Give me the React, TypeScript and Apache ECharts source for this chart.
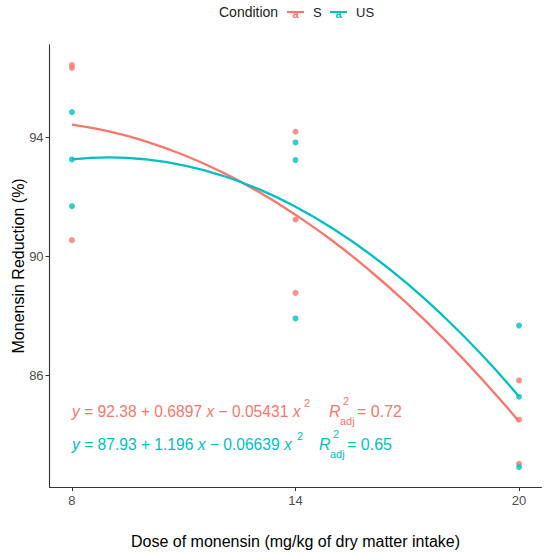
import React, { useEffect, useRef } from "react";
import * as echarts from "echarts";

const doses = [8, 14, 20];
const sPoints: [number, number][] = [
  [8, 96.42], [8, 96.32], [8, 90.54],
  [14, 94.18], [14, 91.23], [14, 88.77],
  [20, 85.83], [20, 84.51], [20, 83.03],
];
const usPoints: [number, number][] = [
  [8, 94.84], [8, 93.25], [8, 91.68],
  [14, 93.82], [14, 93.23], [14, 87.91],
  [20, 87.67], [20, 85.28], [20, 82.92],
];
const fitX = [8, 9, 10, 11, 12, 13, 14, 15, 16, 17, 18, 19, 20];
const sFit = [94.42, 94.19, 93.85, 93.4, 92.84, 92.17, 91.39, 90.51, 89.51, 88.41, 87.2, 85.88, 84.45];
const usFit = [93.25, 93.32, 93.25, 93.05, 92.72, 92.26, 91.66, 90.93, 90.07, 89.08, 87.95, 86.69, 85.29];
const yTicks = [86, 90, 94];
const legendNames = ["S", "US"];
const sEq = { main: "{i|y} = 92.38 + 0.6897 {i|x} − 0.05431 {i|x}", r2: "= 0.72" };
const usEq = { main: "{i|y} = 87.93 + 1.196 {i|x} − 0.06639 {i|x}", r2: "= 0.65" };

const S_COLOR = "#F8766D";
const US_COLOR = "#00BFC4";
const FONT = "'Liberation Sans', Arial, Helvetica, sans-serif";

function eqGraphics(eq: { main: string; r2: string }, color: string, y: number, supX: number, rX: number, r2X: number) {
  const base = { fill: color, fontFamily: FONT, verticalAlign: "middle" };
  return [
    {
      type: "text", x: 72, y,
      style: { ...base, text: eq.main, fontSize: 15.6, rich: { i: { fontStyle: "italic", fontSize: 15.6, fill: color, fontFamily: FONT } } },
    },
    { type: "text", x: supX, y: y - 8, style: { ...base, text: "2", fontSize: 11 } },
    { type: "text", x: rX, y, style: { ...base, text: "R", fontSize: 16, fontStyle: "italic" } },
    { type: "text", x: rX + 14, y: y - 10, style: { ...base, text: "2", fontSize: 11 } },
    { type: "text", x: rX + 11, y: y + 10, style: { ...base, text: "adj", fontSize: 11 } },
    { type: "text", x: r2X, y, style: { ...base, text: eq.r2, fontSize: 16 } },
  ];
}

function legendGraphics() {
  const colors = [S_COLOR, US_COLOR];
  const iconX = [287, 330];
  const out: any[] = [
    { type: "text", x: 219, y: 12, style: { text: "Condition", fill: "#222", fontSize: 14, fontFamily: FONT, verticalAlign: "middle" } },
  ];
  legendNames.forEach((name, i) => {
    out.push({ type: "line", shape: { x1: iconX[i], y1: 12, x2: iconX[i] + 17, y2: 12 }, style: { stroke: colors[i], lineWidth: 2 } });
    out.push({ type: "text", x: iconX[i] + 8.5, y: 14, style: { text: "a", fill: colors[i], fontSize: 11, fontWeight: "bold", fontFamily: FONT, align: "center", verticalAlign: "middle" } });
    out.push({ type: "text", x: iconX[i] + 26, y: 12, style: { text: name, fill: "#222", fontSize: 13, fontFamily: FONT, verticalAlign: "middle" } });
  });
  return out;
}

export default function App() {
  const ref = useRef<HTMLDivElement>(null);
  useEffect(() => {
    if (!ref.current) return;
    const chart = echarts.init(ref.current, undefined, { renderer: "svg" });
    const axisLabelStyle = { color: "#4D4D4D", fontSize: 13, fontFamily: FONT };
    chart.setOption({
      animation: false,
      backgroundColor: "#ffffff",
      grid: { left: 49.6, right: 8.6, top: 44.8, bottom: 68, containLabel: false, outerBoundsMode: "none" },
      xAxis: {
        type: "value",
        min: 7.4,
        max: 20.6,
        name: "Dose of monensin (mg/kg of dry matter intake)",
        nameLocation: "middle",
        nameGap: 46,
        nameMoveOverlap: false,
        nameTextStyle: { color: "#000", fontSize: 16, fontFamily: FONT },
        splitLine: { show: false },
        axisLine: { show: true, onZero: false, lineStyle: { color: "#333", width: 1.1 } },
        axisTick: { show: true, length: 4, lineStyle: { color: "#333" }, customValues: doses },
        axisLabel: { ...axisLabelStyle, margin: 7, customValues: doses },
      },
      yAxis: {
        type: "value",
        min: 82.25,
        max: 97.1,
        name: "Monensin Reduction (%)",
        nameLocation: "middle",
        nameGap: 23,
        nameMoveOverlap: false,
        nameTextStyle: { color: "#000", fontSize: 16, fontFamily: FONT },
        splitLine: { show: false },
        axisLine: { show: true, onZero: false, lineStyle: { color: "#333", width: 1.1 } },
        axisTick: { show: true, length: 4, lineStyle: { color: "#333" }, customValues: yTicks },
        axisLabel: { ...axisLabelStyle, margin: 6, customValues: yTicks },
      },
      series: [
        { name: "S", type: "scatter", data: sPoints, symbolSize: 6, itemStyle: { color: S_COLOR }, z: 2 },
        { name: "US", type: "scatter", data: usPoints, symbolSize: 6, itemStyle: { color: US_COLOR }, z: 2 },
        {
          name: "S", type: "line", data: fitX.map((x, i) => [x, sFit[i]]), smooth: true,
          showSymbol: false, lineStyle: { color: S_COLOR, width: 2.3 }, itemStyle: { color: S_COLOR }, z: 3,
        },
        {
          name: "US", type: "line", data: fitX.map((x, i) => [x, usFit[i]]), smooth: true,
          showSymbol: false, lineStyle: { color: US_COLOR, width: 2.3 }, itemStyle: { color: US_COLOR }, z: 3,
        },
      ],
      graphic: [
        ...legendGraphics(),
        ...eqGraphics(sEq, S_COLOR, 411, 304, 329, 357),
        ...eqGraphics(usEq, US_COLOR, 444, 297, 319, 347),
      ],
    });
    return () => chart.dispose();
  }, []);
  return <div ref={ref} style={{ position: "absolute", left: 0, top: 0, width: 550, height: 555 }} />;
}
